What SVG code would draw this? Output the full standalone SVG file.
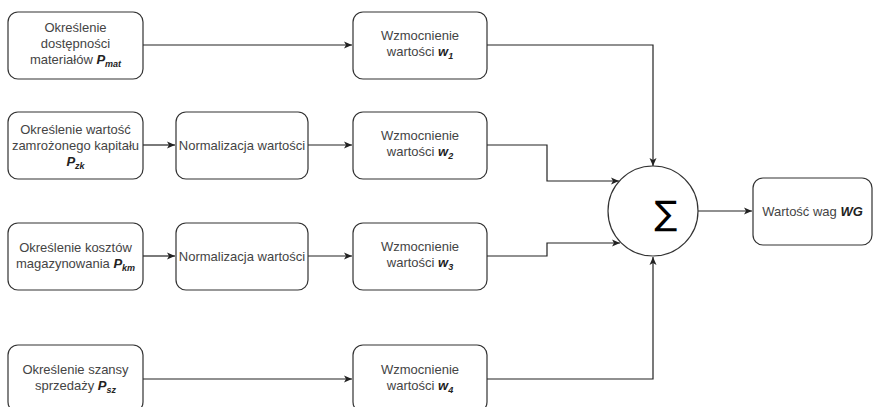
<svg xmlns="http://www.w3.org/2000/svg" width="876" height="407" viewBox="0 0 876 407">
<defs>
<style>
.box{fill:#fff;stroke:#333;stroke-width:1.2}
.t{font-family:"Liberation Sans",Arial,sans-serif;font-size:13px;fill:#444;text-anchor:middle}
.b{font-weight:bold;font-style:italic;fill:#222}
.s{font-size:9px;font-weight:bold;font-style:italic;fill:#222}
.c{fill:none;stroke:#222;stroke-width:1.2}
</style>
<marker id="arr" markerWidth="10" markerHeight="10" refX="9" refY="5" orient="auto" markerUnits="userSpaceOnUse">
<path d="M1,1.5 L9,5 L1,8.5 L3,5 Z" fill="#222"/>
</marker>
</defs>
<rect width="876" height="407" fill="#fff"/>
<g id="connectors">
<path class="c" d="M143,45 H352" marker-end="url(#arr)"/>
<path class="c" d="M143,145 H175" marker-end="url(#arr)"/>
<path class="c" d="M308,145 H352" marker-end="url(#arr)"/>
<path class="c" d="M143,256 H175" marker-end="url(#arr)"/>
<path class="c" d="M308,256 H352" marker-end="url(#arr)"/>
<path class="c" d="M143,379 H352" marker-end="url(#arr)"/>
<path class="c" d="M487,45 H653 V166" marker-end="url(#arr)"/>
<path class="c" d="M487,145 H547 V181 H619" marker-end="url(#arr)"/>
<path class="c" d="M487,256 H547 V243 H620" marker-end="url(#arr)"/>
<path class="c" d="M487,379 H653 V257" marker-end="url(#arr)"/>
<path class="c" d="M698,211 H752" marker-end="url(#arr)"/>
</g>
<g id="n1"><rect class="box" x="8" y="12" width="135" height="67" rx="10"/>
<text class="t" x="75.5" y="32">Określenie</text>
<text class="t" x="75.5" y="48">dostępności</text>
<text class="t" x="75.5" y="64">materiałów <tspan class="b">P</tspan><tspan class="s" dy="3">mat</tspan></text></g>
<g id="n2"><rect class="box" x="8" y="112" width="135" height="67" rx="10"/>
<text class="t" x="75.5" y="134">Określenie wartość</text>
<text class="t" x="75.5" y="150">zamrożonego kapitału</text>
<text class="t" x="75.5" y="166"><tspan class="b">P</tspan><tspan class="s" dy="3">zk</tspan></text></g>
<g id="n3"><rect class="box" x="8" y="223" width="135" height="67" rx="10"/>
<text class="t" x="75.5" y="252">Określenie kosztów</text>
<text class="t" x="75.5" y="268">magazynowania <tspan class="b">P</tspan><tspan class="s" dy="3">km</tspan></text></g>
<g id="n4"><rect class="box" x="8" y="345" width="135" height="67" rx="10"/>
<text class="t" x="75.5" y="374">Określenie szansy</text>
<text class="t" x="75.5" y="390">sprzedaży <tspan class="b">P</tspan><tspan class="s" dy="3">sz</tspan></text></g>
<g id="norm1"><rect class="box" x="176" y="112" width="132" height="67" rx="10"/>
<text class="t" x="242" y="150">Normalizacja wartości</text></g>
<g id="norm2"><rect class="box" x="176" y="223" width="132" height="67" rx="10"/>
<text class="t" x="242" y="261">Normalizacja wartości</text></g>
<g id="w1"><rect class="box" x="353" y="12" width="134" height="67" rx="10"/>
<text class="t" x="420" y="40">Wzmocnienie</text>
<text class="t" x="420" y="56">wartości <tspan class="b">w</tspan><tspan class="s" dy="3">1</tspan></text></g>
<g id="w2"><rect class="box" x="353" y="112" width="134" height="67" rx="10"/>
<text class="t" x="420" y="140">Wzmocnienie</text>
<text class="t" x="420" y="156">wartości <tspan class="b">w</tspan><tspan class="s" dy="3">2</tspan></text></g>
<g id="w3"><rect class="box" x="353" y="223" width="134" height="67" rx="10"/>
<text class="t" x="420" y="251">Wzmocnienie</text>
<text class="t" x="420" y="267">wartości <tspan class="b">w</tspan><tspan class="s" dy="3">3</tspan></text></g>
<g id="w4"><rect class="box" x="353" y="345" width="134" height="67" rx="10"/>
<text class="t" x="420" y="374">Wzmocnienie</text>
<text class="t" x="420" y="390">wartości <tspan class="b">w</tspan><tspan class="s" dy="3">4</tspan></text></g>
<g id="sum"><circle cx="653" cy="211" r="45" fill="#fff" stroke="#333" stroke-width="1.2"/>
<text x="666" y="225" font-family="'DejaVu Sans',sans-serif" font-size="34" text-anchor="middle" fill="#000">∑</text></g>
<g id="wg"><rect class="box" x="753" y="178" width="119" height="67" rx="10"/>
<text class="t" x="812.5" y="216">Wartość wag <tspan class="b">WG</tspan></text></g>
</svg>
